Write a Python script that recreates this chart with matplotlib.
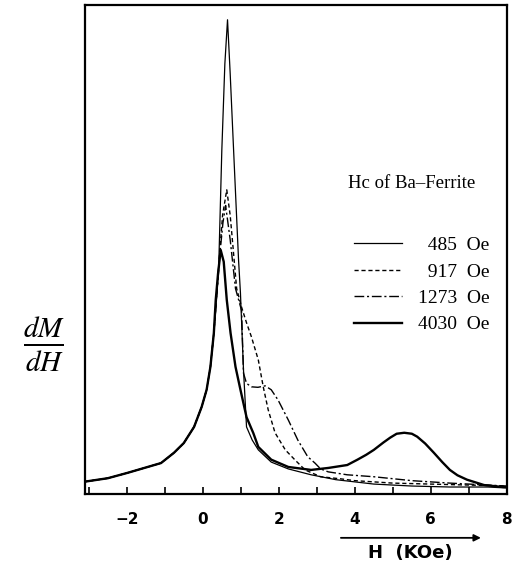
import numpy as np
import matplotlib
matplotlib.use('Agg')
import matplotlib.pyplot as plt

plt.rcParams['mathtext.fontset'] = 'stix'

# values (y in arbitrary units, 0-100)
x_485 = [-3.1, -2.5, -1.98, -1.54, -1.1, -0.76, -0.5, -0.23, -0.03, 0.1, 0.2, 0.29, 0.36, 0.42, 0.5, 0.58, 0.65,
         0.72, 0.81, 0.94, 0.99, 1.07, 1.15, 1.3, 1.46, 1.8, 2.25, 2.85, 3.5, 4.5, 5.5, 6.5, 7.5, 8.0]
y_485 = [2.5, 3.2, 4.3, 5.3, 6.3, 8.4, 10.4, 13.7, 17.8, 21.3, 26.0, 32.9, 40.0, 47.0, 70.3, 88.0, 97.0,
         86.0, 70.3, 47.9, 41.1, 25.4, 13.7, 11.0, 9.0, 6.5, 5.1, 3.9, 2.9, 2.0, 1.6, 1.4, 1.4, 1.2]

x_917 = [-3.1, -2.5, -1.98, -1.54, -1.1, -0.76, -0.5, -0.23, -0.03, 0.1, 0.2, 0.29, 0.36, 0.45, 0.52, 0.63,
         0.72, 0.8, 0.89, 1.02, 1.15, 1.28, 1.46, 1.59, 1.72, 1.9, 2.17, 2.43, 2.69, 3.1, 3.6, 4.0, 5.0, 6.0, 7.0, 8.0]
y_917 = [2.5, 3.2, 4.3, 5.3, 6.3, 8.4, 10.4, 13.7, 17.8, 21.3, 26.0, 32.9, 40.0, 50.0, 57.0, 62.2,
         57.0, 50.0, 42.0, 38.2, 35.0, 32.1, 27.4, 21.9, 17.2, 12.5, 9.0, 6.9, 4.9, 3.5, 3.1, 2.7, 2.2, 2.0, 1.8, 1.6]

x_1273 = [-3.1, -2.5, -1.98, -1.54, -1.1, -0.76, -0.5, -0.23, -0.03, 0.1, 0.2, 0.29, 0.36, 0.46, 0.53, 0.6,
          0.72, 0.86, 1.02, 1.07, 1.15, 1.28, 1.45, 1.64, 1.8, 1.98, 2.25, 2.5, 2.76, 2.95, 3.1, 3.3, 3.8, 4.5,
          5.5, 6.5, 7.5, 8.0]
y_1273 = [2.5, 3.2, 4.3, 5.3, 6.3, 8.4, 10.4, 13.7, 17.8, 21.3, 26.0, 32.9, 40.0, 50.0, 55.5, 59.0,
          52.0, 42.0, 37.5, 24.7, 22.6, 21.9, 21.8, 22.1, 21.3, 19.2, 15.1, 11.0, 7.6, 6.3, 5.1, 4.5, 3.9, 3.5,
          2.7, 2.2, 1.8, 1.6]

x_4030 = [-3.1, -2.5, -1.98, -1.54, -1.1, -0.76, -0.5, -0.23, -0.03, 0.1, 0.2, 0.29, 0.34, 0.40, 0.47, 0.55,
          0.63, 0.73, 0.86, 0.99, 1.15, 1.33, 1.46, 1.8, 2.25, 2.85, 3.3, 3.8, 4.07, 4.3, 4.5, 4.75, 4.93, 5.1,
          5.3, 5.5, 5.64, 5.85, 6.08, 6.3, 6.5, 6.7, 6.95, 7.4, 7.9, 8.0]
y_4030 = [2.5, 3.2, 4.3, 5.3, 6.3, 8.4, 10.4, 13.7, 17.8, 21.3, 26.0, 32.9, 39.7, 45.0, 49.9, 47.5,
          39.7, 32.9, 26.0, 21.3, 15.7, 12.4, 9.6, 7.0, 5.5, 4.9, 5.3, 5.9, 7.0, 8.0, 9.0, 10.5, 11.5, 12.3,
          12.5, 12.3, 11.7, 10.3, 8.4, 6.5, 4.9, 3.8, 2.9, 1.8, 1.4, 1.4]

labels = ['\u2007485  Oe', '\u2007917  Oe', '1273  Oe', '4030  Oe']

fig = plt.figure(figsize=(5.12, 5.67), dpi=100)
ax = fig.add_axes([0.166, 0.129, 0.824, 0.862])

ax.plot(x_485, y_485, color='black', lw=0.9, label=labels[0])
ax.plot(x_917, y_917, color='black', lw=1.0, linestyle=(0, (3, 2)), label=labels[1])
ax.plot(x_1273, y_1273, color='black', lw=1.0, linestyle=(0, (7, 2, 1.5, 2)), label=labels[2])
ax.plot(x_4030, y_4030, color='black', lw=1.7, label=labels[3])

ax.set_xlim(-3.1, 8)
ax.set_ylim(0, 100)
ax.set_xticks([-2, 0, 2, 4, 6, 8])
ax.set_xticklabels(['\u22122', '0', '2', '4', '6', '8'], fontsize=11, fontweight='bold')
ax.set_xticks([-3, -1, 1, 3, 5, 7], minor=True)
ax.tick_params(axis='x', which='both', direction='in', length=5, width=1.2, pad=13)
ax.set_yticks([])
for s in ax.spines.values():
    s.set_linewidth(1.6)

ax.text(0.775, 0.636, 'Hc of Ba\u2013Ferrite', transform=ax.transAxes, ha='center', va='center',
        fontsize=13.5, family=['Liberation Serif', 'DejaVu Serif'])

leg = ax.legend(loc='upper left', bbox_to_anchor=(0.595, 0.562), frameon=False,
                handlelength=2.5, handletextpad=0.8, labelspacing=0.45,
                prop={'family': ['Liberation Serif', 'DejaVu Serif'], 'size': 14})

ax.annotate('', xy=(0.945, -0.09), xytext=(0.60, -0.09), xycoords='axes fraction',
            arrowprops=dict(arrowstyle='-|>', color='black', lw=1.3, mutation_scale=10),
            annotation_clip=False)
ax.text(0.77, -0.12, 'H  (KOe)', transform=ax.transAxes, ha='center', va='center',
        fontsize=13, fontweight='bold')

fig.text(0.085, 0.392, r'$\frac{dM}{dH}$', ha='center', va='center', fontsize=30)

fig.savefig('out.png', dpi=100)
